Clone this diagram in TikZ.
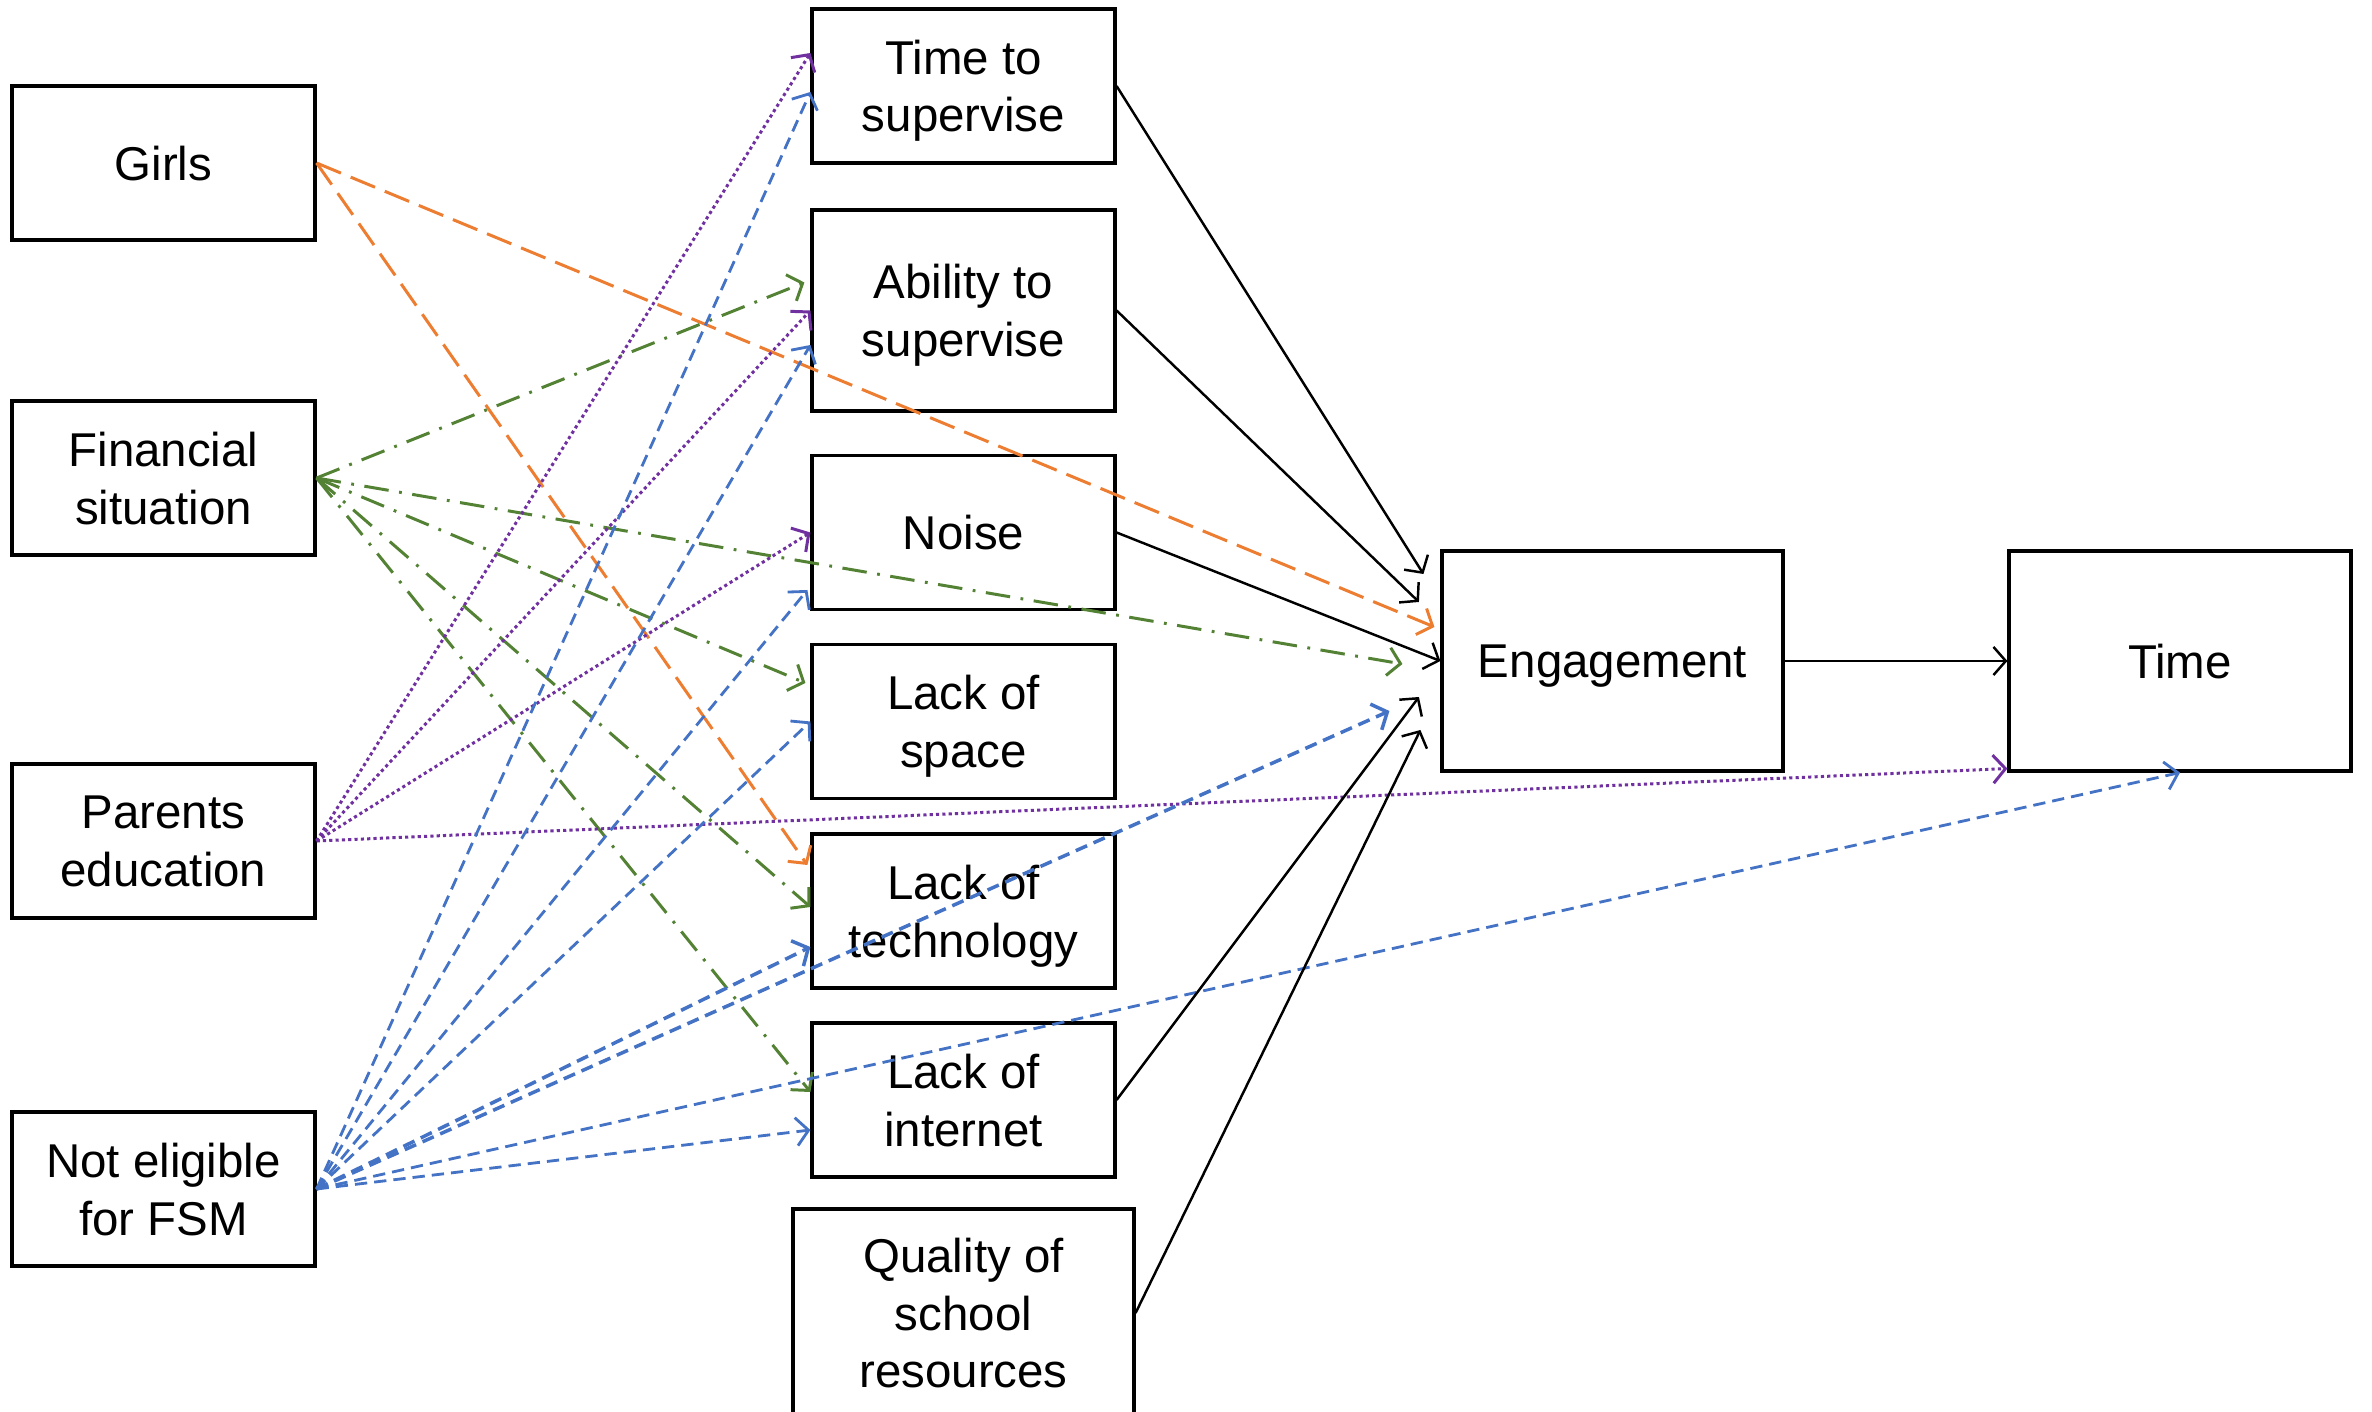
\documentclass[tikz,border=0pt]{standalone}
\usepackage{fontspec}
\setmainfont{Liberation Sans}
\usepackage{tikz}
\usetikzlibrary{arrows.meta}
\definecolor{girlsorange}{HTML}{ED7D31}
\definecolor{fingreen}{HTML}{548235}
\definecolor{parpurple}{HTML}{7030A0}
\definecolor{fsmblue}{HTML}{4472C4}

\begin{document}
\begin{tikzpicture}[
  box/.style={draw, line width=0.9pt, align=center, inner sep=0pt,
    minimum width=3.03cm, minimum height=1.54cm, text depth=0pt,
    font=\fontsize{13.5}{16.4}\selectfont},
  bigbox/.style={box, minimum width=3.41cm, minimum height=2.2cm},
  link/.style={line width=0.7pt, -{Straight Barb[length=3.5pt,width=8pt]}},
  girlslink/.style={link, girlsorange, line width=0.85pt, dash pattern=on 7.5pt off 3pt},
  finlink/.style={link, fingreen, line width=0.85pt, dash pattern=on 7pt off 3pt on 0.8pt off 3pt},
  parlink/.style={link, parpurple, line width=0.85pt, dash pattern=on 0.9pt off 0.9pt},
  fsmlink/.style={link, fsmblue, line width=0.8pt, dash pattern=on 3.5pt off 2pt}
]
\clip (0,0) rectangle (23.72,14.11);

% background variables
\node [box] (girls) at (1.635,12.48) {Girls};
\node [box] (fin) at (1.635,9.33) {Financial\\situation};
\node [box] (par) at (1.635,5.70) {Parents\\education};
\node [box] (fsm) at (1.635,2.22) {Not eligible\\for FSM};

% home learning conditions
\node [box] (sup) at (9.635,13.25) {Time to\\supervise};
\node [box, minimum height=2.01cm] (abil) at (9.635,11.005) {Ability to\\supervise};
\node [box] (noise) at (9.635,8.785) {Noise};
\node [box] (space) at (9.635,6.895) {Lack of\\space};
\node [box] (tech) at (9.635,5.00) {Lack of\\technology};
\node [box] (inet) at (9.635,3.11) {Lack of\\internet};
\node [bigbox, minimum height=2.08cm] (qual) at (9.635,0.98) {Quality of\\school\\resources};

% outcomes
\node [bigbox] (eng) at (16.125,7.50) {Engagement};
\node [bigbox, minimum width=3.42cm] (time) at (21.80,7.50) {Time};

% girls
\draw [girlslink] (girls.east) -- ([xshift=-0.06cm,yshift=0.34cm]eng.west);
\draw [girlslink] (girls.east) -- ([xshift=-0.03cm,yshift=0.46cm]tech.west);

% financial situation
\draw [finlink] (fin.east) -- ([xshift=-0.06cm,yshift=0.28cm]abil.west);
\draw [finlink] (fin.east) -- ([xshift=-0.38cm,yshift=-0.03cm]eng.west);
\draw [finlink] (fin.east) -- ([xshift=-0.05cm,yshift=0.385cm]space.west);
\draw [finlink] (fin.east) -- ([yshift=0.04cm]tech.west);
\draw [finlink] (fin.east) -- ([yshift=0.08cm]inet.west);

% parents education
\draw [parlink] (par.east) -- ([yshift=0.33cm]sup.west);
\draw [parlink] (par.east) -- (abil.west);
\draw [parlink] (par.east) -- (noise.west);
\draw [parlink] (par.east) -- ([yshift=0.04cm]time.south west);

% not eligible for FSM
\draw [fsmlink] (fsm.east) -- ([yshift=-0.06cm]sup.west);
\draw [fsmlink] (fsm.east) -- ([yshift=-0.345cm]abil.west);
\draw [fsmlink] (fsm.east) -- ([xshift=-0.03cm,yshift=-0.575cm]noise.west);
\draw [fsmlink] (fsm.east) -- (space.west);
\draw [fsmlink, line width=1pt] (fsm.east) -- ([yshift=-0.36cm]tech.west);
\draw [fsmlink] (fsm.east) -- ([yshift=-0.30cm]inet.west);
\draw [fsmlink, line width=1pt] (fsm.east) -- ([xshift=-0.51cm,yshift=-0.50cm]eng.west);
\draw [fsmlink] (fsm.east) -- (time.south);

% conditions to engagement
\draw [link] (sup.east) -- ([xshift=-0.17cm,yshift=0.87cm]eng.west);
\draw [link] (abil.east) -- ([xshift=-0.215cm,yshift=0.59cm]eng.west);
\draw [link] (noise.east) -- (eng.west);
\draw [link] (inet.east) -- ([xshift=-0.215cm,yshift=-0.36cm]eng.west);
\draw [link] (qual.east) -- ([xshift=-0.2cm,yshift=-0.69cm]eng.west);
\draw [link] (eng.east) -- (time.west);
\end{tikzpicture}
\end{document}
